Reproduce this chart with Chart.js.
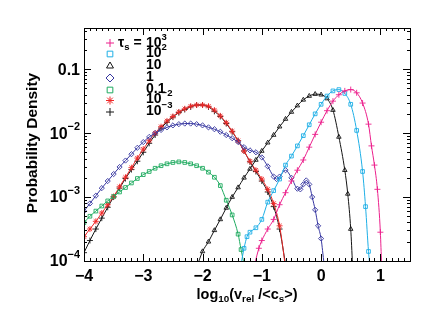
<!DOCTYPE html>
<html>
<head>
<meta charset="utf-8">
<script src="https://cdn.jsdelivr.net/npm/chart.js@4/dist/chart.umd.min.js"></script>
<style>
  html, body { margin: 0; padding: 0; background: #fff; }
  #wrap { width: 436px; height: 315px; }
</style>
</head>
<body>
<div id="wrap"><canvas id="pdfChart" width="436" height="315"></canvas></div>
<script>
// ---- data: x = log10(v_rel/<c_s>), y = probability density ----
const xsTau1e3 = [-1.12, -1.05, -1.0, -0.9, -0.8, -0.7, -0.6, -0.5, -0.4, -0.3, -0.2, -0.1, 0.0, 0.1, 0.2, 0.3, 0.4, 0.5, 0.6, 0.7, 0.8, 0.85, 0.9, 0.95, 1.0, 1.02];
const pdfTau1e3 = [8.9e-5, 1.58e-4, 2.09e-4, 3.16e-4, 4.47e-4, 7.59e-4, 1.17e-3, 1.78e-3, 2.63e-3, 3.80e-3, 6.03e-3, 9.55e-3, 1.48e-2, 2.24e-2, 3.16e-2, 3.98e-2, 4.57e-2, 4.79e-2, 4.27e-2, 2.95e-2, 1.38e-2, 6.31e-3, 3.16e-3, 1.32e-3, 2.82e-4, 8.9e-5];

const xsTau1e2 = [-1.35, -1.3, -1.25, -1.2, -1.1, -1.0, -0.9, -0.8, -0.7, -0.6, -0.5, -0.4, -0.3, -0.2, -0.1, 0.0, 0.1, 0.2, 0.3, 0.4, 0.5, 0.6, 0.7, 0.75, 0.8, 0.82];
const pdfTau1e2 = [8.9e-5, 1.58e-4, 2.40e-4, 2.82e-4, 3.31e-4, 4.47e-4, 8.32e-4, 1.26e-3, 1.91e-3, 3.16e-3, 4.37e-3, 6.31e-3, 9.12e-3, 1.35e-2, 2.00e-2, 2.82e-2, 3.80e-2, 4.57e-2, 4.79e-2, 4.17e-2, 2.82e-2, 1.10e-2, 2.51e-3, 7.08e-4, 1.41e-4, 8.9e-5];

const xsTau10 = [-2.1, -2.0, -1.9, -1.8, -1.7, -1.6, -1.5, -1.4, -1.3, -1.2, -1.1, -1.0, -0.9, -0.8, -0.7, -0.6, -0.5, -0.4, -0.3, -0.2, -0.1, 0.0, 0.1, 0.2, 0.3, 0.4, 0.45, 0.5, 0.53];
const pdfTau10 = [7.9e-5, 1.41e-4, 2.00e-4, 3.02e-4, 4.47e-4, 6.76e-4, 1.0e-3, 1.41e-3, 2.00e-3, 2.75e-3, 3.80e-3, 5.25e-3, 7.08e-3, 9.33e-3, 1.26e-2, 1.66e-2, 2.14e-2, 2.69e-2, 3.31e-2, 3.80e-2, 4.07e-2, 3.98e-2, 3.47e-2, 2.29e-2, 8.71e-3, 2.63e-3, 1.12e-3, 3.16e-4, 8.9e-5];

const xsTau1 = [-4.0, -3.9, -3.8, -3.7, -3.6, -3.5, -3.4, -3.3, -3.2, -3.1, -3.0, -2.9, -2.8, -2.7, -2.6, -2.5, -2.4, -2.3, -2.2, -2.1, -2.0, -1.9, -1.8, -1.7, -1.6, -1.5, -1.4, -1.3, -1.2, -1.1, -1.0, -0.9, -0.8, -0.75, -0.7, -0.6, -0.5, -0.4, -0.35, -0.3, -0.25, -0.2, -0.15, -0.1, -0.05, 0.0, 0.05];
const pdfTau1 = [6.03e-4, 7.94e-4, 1.05e-3, 1.38e-3, 1.78e-3, 2.29e-3, 2.95e-3, 3.72e-3, 4.68e-3, 5.89e-3, 7.24e-3, 8.71e-3, 1.0e-2, 1.12e-2, 1.23e-2, 1.32e-2, 1.38e-2, 1.41e-2, 1.41e-2, 1.38e-2, 1.32e-2, 1.23e-2, 1.15e-2, 1.05e-2, 9.33e-3, 8.32e-3, 7.24e-3, 6.03e-3, 5.37e-3, 5.01e-3, 4.17e-3, 3.02e-3, 2.09e-3, 1.91e-3, 2.09e-3, 2.63e-3, 2.00e-3, 1.35e-3, 1.32e-3, 1.58e-3, 1.82e-3, 1.58e-3, 1.0e-3, 6.31e-4, 3.55e-4, 2.24e-4, 8.9e-5];

const xsTau01 = [-4.0, -3.9, -3.8, -3.7, -3.6, -3.5, -3.4, -3.3, -3.2, -3.1, -3.0, -2.9, -2.8, -2.7, -2.6, -2.5, -2.4, -2.3, -2.2, -2.1, -2.0, -1.9, -1.8, -1.7, -1.6, -1.5, -1.4, -1.35, -1.3];
const pdfTau01 = [3.98e-4, 5.01e-4, 6.03e-4, 7.24e-4, 8.71e-4, 1.02e-3, 1.20e-3, 1.41e-3, 1.66e-3, 1.95e-3, 2.24e-3, 2.51e-3, 2.82e-3, 3.09e-3, 3.31e-3, 3.47e-3, 3.55e-3, 3.47e-3, 3.31e-3, 3.09e-3, 2.82e-3, 2.45e-3, 2.04e-3, 1.51e-3, 8.91e-4, 5.25e-4, 2.63e-4, 1.51e-4, 8.9e-5];

const xsTau1em2 = [-4.0, -3.9, -3.8, -3.7, -3.6, -3.5, -3.4, -3.3, -3.2, -3.1, -3.0, -2.9, -2.8, -2.7, -2.6, -2.5, -2.4, -2.3, -2.2, -2.1, -2.0, -1.9, -1.8, -1.7, -1.6, -1.5, -1.4, -1.3, -1.2, -1.1, -1.0, -0.9, -0.8, -0.7, -0.6];
const pdfTau1em2 = [2.40e-4, 3.16e-4, 4.17e-4, 5.62e-4, 7.59e-4, 1.02e-3, 1.45e-3, 2.04e-3, 2.88e-3, 4.07e-3, 5.62e-3, 7.59e-3, 1.0e-2, 1.26e-2, 1.55e-2, 1.82e-2, 2.14e-2, 2.40e-2, 2.63e-2, 2.75e-2, 2.75e-2, 2.63e-2, 2.29e-2, 1.86e-2, 1.45e-2, 1.07e-2, 7.59e-3, 5.25e-3, 3.63e-3, 2.63e-3, 1.91e-3, 1.32e-3, 7.94e-4, 3.55e-4, 7.9e-5];

const xsTau1em3 = [-4.0, -3.9, -3.8, -3.7, -3.6, -3.5, -3.4, -3.3, -3.2, -3.1, -3.0, -2.9, -2.8, -2.7, -2.6, -2.5, -2.4, -2.3, -2.2, -2.1, -2.0, -1.9, -1.8, -1.7, -1.6, -1.5, -1.4, -1.3, -1.2, -1.1, -1.0, -0.9, -0.8, -0.7, -0.6];
const pdfTau1em3 = [1.35e-4, 2.09e-4, 3.16e-4, 4.68e-4, 6.92e-4, 1.0e-3, 1.38e-3, 1.95e-3, 2.69e-3, 3.63e-3, 5.01e-3, 6.92e-3, 9.33e-3, 1.20e-2, 1.48e-2, 1.78e-2, 2.09e-2, 2.34e-2, 2.57e-2, 2.75e-2, 2.75e-2, 2.57e-2, 2.19e-2, 1.82e-2, 1.41e-2, 1.05e-2, 7.59e-3, 5.25e-3, 3.55e-3, 2.51e-3, 1.78e-3, 1.20e-3, 7.08e-4, 3.16e-4, 8.9e-5];

// legend rows: main text and superscript
const legendValues = [["10", "3"], ["10", "2"], ["10", ""], ["1", ""], ["0.1", ""], ["10", "\u22122"], ["10", "\u22123"]];

// tick labels
const xTickValues = [-4, -3, -2, -1, 0, 1];
const xTickLabels = ["\u22124", "\u22123", "\u22122", "\u22121", "0", "1"];
const yTickValues = [0.1, 0.01, 0.001, 0.0001];
const yTickLabels = [["0.1", ""], ["10", "\u22122"], ["10", "\u22123"], ["10", "\u22124"]];

// ---- styles ----
const series = [
  { xs: xsTau1e3, ys: pdfTau1e3, color: "rgb(236,32,140)", style: "cross", r: 3 },
  { xs: xsTau1e2, ys: pdfTau1e2, color: "rgb(30,175,230)", style: "rect", r: 2.6 },
  { xs: xsTau10, ys: pdfTau10, color: "rgb(20,20,20)", style: "triangle", r: 2.6 },
  { xs: xsTau1, ys: pdfTau1, color: "rgb(55,55,160)", style: "rectRot", r: 2.6 },
  { xs: xsTau01, ys: pdfTau01, color: "rgb(30,170,95)", style: "rect", r: 2.6 },
  { xs: xsTau1em2, ys: pdfTau1em2, color: "rgb(240,40,40)", style: "star", r: 3 },
  { xs: xsTau1em3, ys: pdfTau1em3, color: "rgb(20,20,20)", style: "cross", r: 3 },
];

const FONT = '"Liberation Sans", Arial, Helvetica, sans-serif';

// tekst met super-/subscript: segs = [[tekst, 0|1|-1], ...]
function richWidth(ctx, segs, size) {
  let w = 0;
  segs.forEach(([t, s]) => {
    ctx.font = "bold " + (s ? size * 0.68 : size) + "px " + FONT;
    w += ctx.measureText(t).width;
  });
  return w;
}
function drawRich(ctx, segs, x, y, size, align) {
  const w = richWidth(ctx, segs, size);
  let cx = align === "right" ? x - w : align === "center" ? x - w / 2 : x;
  ctx.textBaseline = "middle";
  ctx.textAlign = "left";
  segs.forEach(([t, s]) => {
    const fs = s ? size * 0.68 : size;
    ctx.font = "bold " + fs + "px " + FONT;
    const dy = s === 1 ? -size * 0.42 : s === -1 ? size * 0.3 : 0;
    ctx.fillText(t, cx, y + dy);
    cx += ctx.measureText(t).width;
  });
}

const decorations = {
  id: "decorations",
  afterDraw(chart) {
    const { ctx, chartArea: a, scales } = chart;
    const xs = scales.x, ys = scales.y;
    ctx.save();
    ctx.strokeStyle = "#000";
    ctx.fillStyle = "#000";
    ctx.lineWidth = 1;
    ctx.strokeRect(Math.round(a.left) + 0.5, Math.round(a.top) + 0.5, Math.round(a.right - a.left), Math.round(a.bottom - a.top));

    // x ticks (boven en onder, naar binnen)
    ctx.beginPath();
    for (let i = -40; i <= 15; i++) {
      const px = Math.round(xs.getPixelForValue(i / 10)) + 0.5;
      const len = i % 10 === 0 ? 7 : 3;
      ctx.moveTo(px, a.bottom); ctx.lineTo(px, a.bottom - len);
      ctx.moveTo(px, a.top); ctx.lineTo(px, a.top + len);
    }
    // y ticks (links en rechts)
    for (let d = -4; d <= -1; d++) {
      for (let m = 1; m <= 9; m++) {
        const v = m * Math.pow(10, d);
        if (v > ys.max) continue;
        const py = Math.round(ys.getPixelForValue(v)) + 0.5;
        const len = m === 1 ? 7 : 3;
        ctx.moveTo(a.left, py); ctx.lineTo(a.left + len, py);
        ctx.moveTo(a.right, py); ctx.lineTo(a.right - len, py);
      }
    }
    ctx.stroke();

    // tick labels
    xTickValues.forEach((v, i) => {
      drawRich(ctx, [[xTickLabels[i], 0]], xs.getPixelForValue(v), a.bottom + 16, 16, "center");
    });
    yTickValues.forEach((v, i) => {
      const [base, sup] = yTickLabels[i];
      drawRich(ctx, [[base, 0], [sup, 1]], a.left - 4, ys.getPixelForValue(v) + 1, 16, "right");
    });

    // as titels
    drawRich(ctx, [["log", 0], ["10", -1], ["(v", 0], ["rel", -1], [" /<c", 0], ["s", -1], [">)", 0]],
      (a.left + a.right) / 2, a.bottom + 34, 14.5, "center");
    ctx.save();
    ctx.translate(33, 143);
    ctx.rotate(-Math.PI / 2);
    drawRich(ctx, [["Probability Density", 0]], 0, 0, 15.5, "center");
    ctx.restore();

    // legenda (open symbolen)
    const rowY = [43, 54, 66, 78, 90, 100.5, 112];
    series.forEach((s, i) => {
      ctx.strokeStyle = s.color;
      ctx.fillStyle = "rgba(0,0,0,0)";
      ctx.lineWidth = 1;
      Chart.helpers.drawPoint(ctx, { pointStyle: s.style, radius: 4, rotation: 0, borderWidth: 1 }, 110, rowY[i]);
    });
    ctx.fillStyle = "#000";
    drawRich(ctx, [["\u03c4", 0], ["s", -1], [" = ", 0]], 118, rowY[0], 14, "left");
    legendValues.forEach(([base, sup], i) => {
      drawRich(ctx, [[base, 0], [sup, 1]], 146, rowY[i] + (i === 0 ? 0 : -1), 14, "left");
    });
    ctx.restore();
  },
};

new Chart(document.getElementById("pdfChart"), {
  type: "line",
  data: {
    datasets: series.map((s) => ({
      data: s.xs.map((x, i) => ({ x, y: s.ys[i] })),
      borderColor: s.color,
      borderWidth: 1,
      pointStyle: s.style,
      pointRadius: s.r,
      pointBorderWidth: 0.9,
      pointBorderColor: s.color,
      pointBackgroundColor: "rgba(0,0,0,0)",
      cubicInterpolationMode: "monotone",
      clip: 0,
      fill: false,
    })),
  },
  options: {
    responsive: false,
    animation: false,
    events: [],
    layout: { padding: { left: 84, top: 28, right: 26, bottom: 54 } },
    plugins: { legend: { display: false }, tooltip: { enabled: false } },
    scales: {
      x: { type: "linear", min: -4, max: 1.5, display: false },
      y: { type: "logarithmic", min: 1e-4, max: 0.44, display: false },
    },
  },
  plugins: [decorations],
});
</script>
</body>
</html>
